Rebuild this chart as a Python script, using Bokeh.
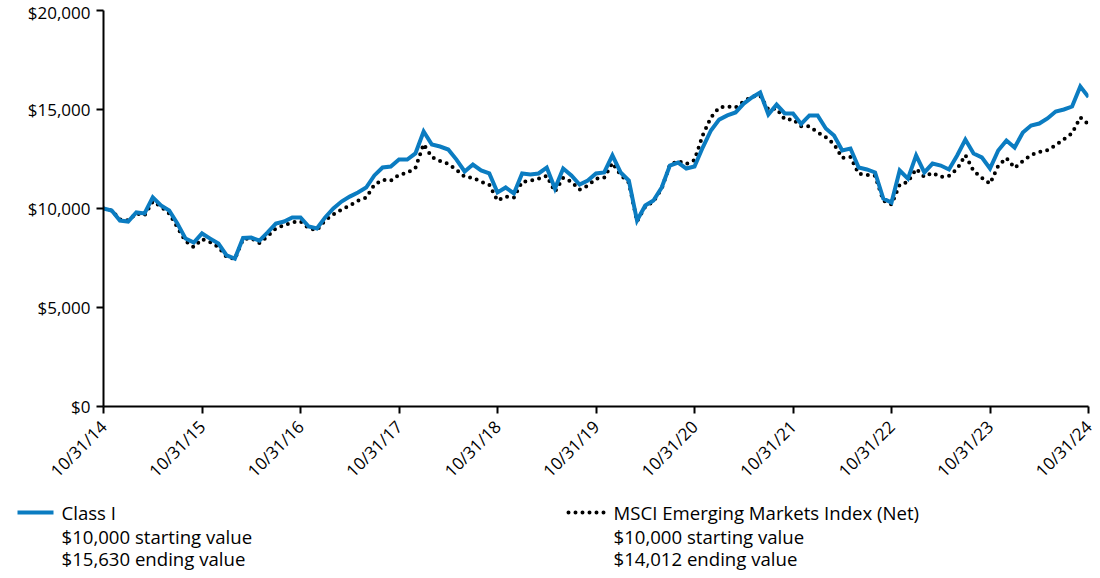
import math
from bokeh.plotting import figure
from bokeh.models import FixedTicker, NumeralTickFormatter, Range1d
from bokeh.core.properties import value
from bokeh.embed import file_html
from bokeh.resources import INLINE

tick_labels = ["10/31/14", "10/31/15", "10/31/16", "10/31/17", "10/31/18", "10/31/19",
               "10/31/20", "10/31/21", "10/31/22", "10/31/23", "10/31/24"]

class_i = [10000, 9900, 9390, 9340, 9800, 9750, 10560, 10150, 9900, 9240, 8480, 8280,
           8740, 8480, 8230, 7630, 7470, 8510, 8530, 8380, 8790, 9240, 9340, 9550,
           9550, 9090, 8990, 9550, 10000, 10350, 10600, 10810, 11060, 11670, 12070, 12120,
           12470, 12470, 12780, 13890, 13230, 13130, 12980, 12470, 11870, 12220, 11920, 11770,
           10810, 11060, 10760, 11770, 11720, 11770, 12070, 11010, 12020, 11670, 11210, 11410,
           11770, 11820, 12680, 11820, 11410, 9390, 10150, 10400, 11060, 12170, 12320, 12020,
           12120, 13080, 13940, 14490, 14700, 14850, 15300, 15610, 15860, 14750, 15250, 14800,
           14800, 14270, 14700, 14700, 14040, 13690, 12930, 13030, 12070, 11970, 11820, 10500,
           10300, 11920, 11510, 12680, 11820, 12270, 12170, 11970, 12680, 13480, 12780, 12580,
           12020, 12930, 13430, 13080, 13840, 14190, 14290, 14550, 14900, 15000, 15150, 16160,
           15630]

msci_em = [10000, 9900, 9450, 9400, 9750, 9650, 10350, 10100, 9750, 9050, 8350, 8050,
           8450, 8300, 8050, 7550, 7450, 8450, 8500, 8250, 8600, 9000, 9150, 9300,
           9350, 9000, 8900, 9400, 9700, 9950, 10150, 10400, 10550, 11200, 11450, 11400,
           11700, 11800, 12050, 13250, 12600, 12400, 12250, 11950, 11600, 11550, 11350, 11200,
           10400, 10600, 10550, 11350, 11400, 11500, 11650, 10850, 11550, 11350, 10950, 11150,
           11500, 11550, 12300, 11700, 11300, 9350, 10100, 10350, 11000, 12200, 12400, 12250,
           12450, 13700, 14600, 15100, 15150, 15100, 15400, 15650, 15700, 15000, 15050, 14500,
           14500, 14150, 14150, 13850, 13600, 13250, 12550, 12600, 11750, 11700, 11650, 10400,
           10200, 11200, 11350, 12000, 11600, 11800, 11600, 11650, 12000, 12700, 11900, 11550,
           11250, 12150, 12550, 12050, 12400, 12700, 12850, 12950, 13200, 13500, 13800, 14600,
           14250]

legend_names = ["Class I", "MSCI Emerging Markets Index (Net)"]
legend_start = ["$10,000 starting value", "$10,000 starting value"]
legend_end = ["$15,630 ending value", "$14,012 ending value"]

months = list(range(len(class_i)))
BLUE = "#0B7CC1"
FONT = "Open Sans"

p = figure(width=1100, height=496, output_backend="svg", toolbar_location=None,
           x_range=Range1d(0, 120), y_range=Range1d(0, 20000),
           min_border_left=103, min_border_right=12, min_border_top=10, min_border_bottom=90)
p.outline_line_color = None
p.xgrid.visible = False
p.ygrid.visible = False

p.line(months, msci_em, line_color="black", line_width=4, line_dash="0 7", line_cap="round")
p.line(months, class_i, line_color=BLUE, line_width=4, line_join="miter")

p.yaxis.ticker = FixedTicker(ticks=[0, 5000, 10000, 15000, 20000])
p.yaxis.formatter = NumeralTickFormatter(format="$0,0")
p.xaxis.ticker = FixedTicker(ticks=[12 * i for i in range(11)])
p.xaxis.major_label_overrides = {12 * i: lab for i, lab in enumerate(tick_labels)}
p.xaxis.major_label_orientation = math.pi / 4
for ax in (p.xaxis, p.yaxis):
    ax.axis_line_color = "black"
    ax.axis_line_width = 2
    ax.major_tick_line_color = "black"
    ax.major_tick_line_width = 2
    ax.major_tick_out = 7
    ax.major_tick_in = 0
    ax.minor_tick_line_color = None
    ax.major_label_text_font = FONT
    ax.major_label_text_font_size = "17px"
    ax.major_label_text_color = "black"
p.yaxis.major_label_standoff = 6
p.xaxis.major_label_standoff = 10

lg = figure(width=1100, height=82, output_backend="svg", toolbar_location=None,
            x_range=Range1d(0, 1100), y_range=Range1d(82, 0),
            x_axis_location=None, y_axis_location=None,
            min_border=0)
lg.outline_line_color = None
lg.xgrid.visible = False
lg.ygrid.visible = False
lg.line([17, 53], [16, 16], line_color=BLUE, line_width=4)
lg.line([568, 605], [16, 16], line_color="black", line_width=4, line_dash="0 7", line_cap="round")
tx = [61, 61, 61, 613, 613, 613]
ty = [16, 40, 62, 16, 40, 62]
tt = [legend_names[0], legend_start[0], legend_end[0], legend_names[1], legend_start[1], legend_end[1]]
lg.text(tx, ty, text=tt, text_baseline="middle", text_align="left",
        text_font=value(FONT), text_font_size="18.6px", text_color="black")

open("out.html", "w").write(file_html([p, lg], INLINE))
